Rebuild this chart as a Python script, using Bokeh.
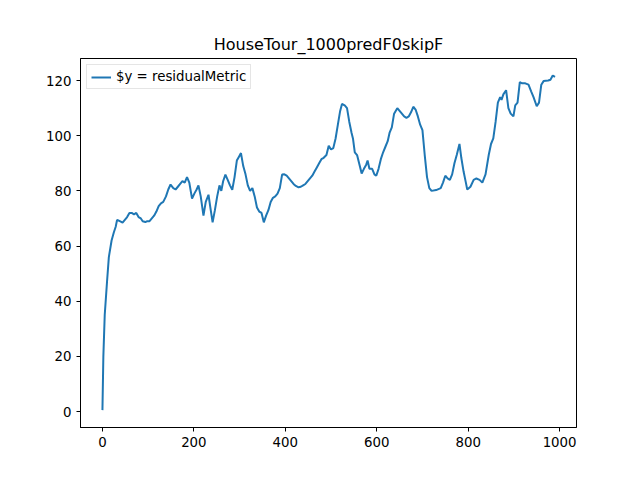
from bokeh.plotting import figure
from bokeh.models import Range1d, FixedTicker
from bokeh.embed import file_html
from bokeh.resources import INLINE

xs = [0,2,5,10,14,20,25,29,32,38,44,49,54,59,64,69,74,79,84,88,94,98,103,108,113,118,123,128,133,139,144,149,155,160,165,170,175,180,185,190,196,201,206,210,215,221,226,232,236,241,246,251,256,260,264,269,274,279,284,289,294,299,303,308,313,318,323,328,333,338,343,348,353,358,363,368,373,378,383,388,393,398,403,408,413,418,423,429,434,439,444,449,454,459,464,469,474,479,484,490,495,500,505,510,515,520,524,530,535,540,545,548,552,557,563,567,572,577,580,584,590,595,599,604,609,614,619,624,628,633,638,645,650,655,660,665,670,675,680,685,690,695,
      700,705,710,715,720,730,740,745,750,755,760,765,770,775,781,785,790,795,798,805,812,818,825,831,838,845,850,855,860,865,870,873,877,883,888,893,899,903,908,913,918,925,932,938,943,950,955,960,965,975,980,985,990]
ys = [0.5,20,35,47,56,62,65,67,69.5,69,68.5,69.5,70.5,72,72,71.5,72,70.5,70,69,68.7,69,69,70,71,72.5,74.5,75.5,76,78,80.5,82.3,81,80.5,81.5,82.5,83.5,83,85,83,77.2,79,80.5,82,78,71,76,78.6,74,68.6,73,78,82,80,83.5,85.9,84,82,80.4,85,91,92.5,93.7,89,86,82,80,81,78,74,72.5,72,68.6,71,73,76,77.5,78,79,81,85.9,86,85.5,84.5,83.5,82.5,81.8,81.3,81.5,82,82.5,83.5,84.5,85.5,87,88.5,90,91.5,92,93,96.4,95,95.5,99,104,109,111.5,111,110,105,101,99,94,93,89,86.3,88,89.5,91,88,88,86,85.5,88,91.5,94,96,98,101,103,108,110,109,108,107,106.5,107,108.5,110.5,109.5,107,104,
      102,93,85,81,80,80.3,81,83,85.5,84.5,84,86,90,93,97,92,87,83,80.5,81.5,84,84.5,84,83,86,93,97,99,105,112,114,113,115,116.5,110,108,107,111,112,119.4,119,119,118.5,116,114,110.7,112,118.5,119.8,120,120.3,121.8,121.3]

p = figure(width=624, height=464, output_backend="svg", toolbar_location=None,
           title="HouseTour_1000predF0skipF",
           x_range=Range1d(-48, 1037), y_range=Range1d(-5.8, 128),
           min_border_left=80, min_border_right=48, min_border_top=58, min_border_bottom=37)
p.line(xs, ys, line_color="#1f77b4", line_width=2, legend_label="$y = residualMetric")
p.title.align = "center"
p.title.text_font = "DejaVu Sans"
p.title.text_font_size = "12pt"
p.title.text_font_style = "normal"
p.title.text_color = "black"
p.xgrid.visible = False
p.ygrid.visible = False
p.outline_line_color = "black"
p.xaxis.ticker = FixedTicker(ticks=[0,200,400,600,800,1000])
p.yaxis.ticker = FixedTicker(ticks=[0,20,40,60,80,100,120])
for ax in (p.xaxis[0], p.yaxis[0]):
    ax.major_label_text_font = "DejaVu Sans"
    ax.major_label_text_font_size = "10pt"
    ax.major_label_text_color = "black"
    ax.minor_tick_line_color = None
    ax.major_tick_out = 4
    ax.major_tick_in = 0
    ax.axis_line_color = "black"
    ax.major_tick_line_color = "black"
p.legend.location = "top_left"
p.legend.label_text_font = "DejaVu Sans"
p.legend.label_text_font_size = "10pt"
p.legend.label_text_color = "black"
p.legend.border_line_color = "#cccccc"
p.legend.background_fill_alpha = 0.8
p.legend.glyph_height = 14
p.legend.label_height = 14
p.legend.padding = 4
p.legend.spacing = 0
p.legend.margin = 6

open("out.html", "w").write(file_html(p, INLINE))
